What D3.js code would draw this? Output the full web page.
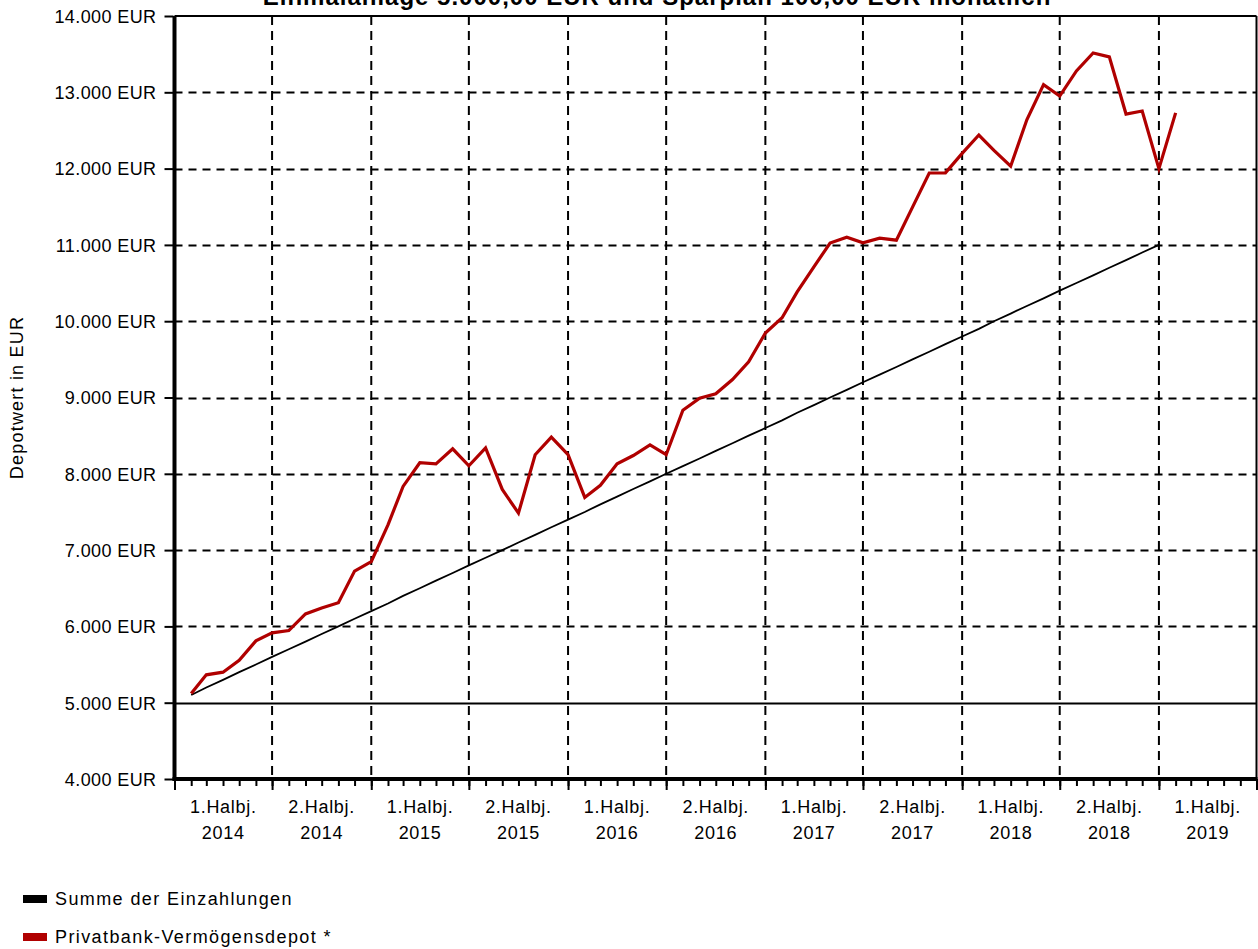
<!DOCTYPE html>
<html>
<head>
<meta charset="utf-8">
<script src="https://cdn.jsdelivr.net/npm/d3@7"></script>
<style>
  html, body { margin: 0; padding: 0; background: #fff; }
  svg { display: block; }
  text { font-family: "Liberation Sans", Arial, sans-serif; fill: #000; }
</style>
</head>
<body>
<svg id="chart" width="1258" height="949"></svg>
<script>
// ---- Data ----
const titleText = "Einmalanlage 5.000,00 EUR und Sparplan 100,00 EUR monatlich";
const yAxisTitle = "Depotwert in EUR";
const seriesNames = ["Summe der Einzahlungen", "Privatbank-Vermögensdepot *"];
const seriesColors = ["#000000", "#b00000"];

// month-end valuation dates (first of following month)
const months = [
  "2014-02","2014-03","2014-04","2014-05","2014-06","2014-07","2014-08","2014-09","2014-10","2014-11","2014-12","2015-01",
  "2015-02","2015-03","2015-04","2015-05","2015-06","2015-07","2015-08","2015-09","2015-10","2015-11","2015-12","2016-01",
  "2016-02","2016-03","2016-04","2016-05","2016-06","2016-07","2016-08","2016-09","2016-10","2016-11","2016-12","2017-01",
  "2017-02","2017-03","2017-04","2017-05","2017-06","2017-07","2017-08","2017-09","2017-10","2017-11","2017-12","2018-01",
  "2018-02","2018-03","2018-04","2018-05","2018-06","2018-07","2018-08","2018-09","2018-10","2018-11","2018-12","2019-01",
  "2019-02"
];

const einzahlungen = [
  5100,5200,5300,5400,5500,5600,5700,5800,5900,6000,6100,6200,
  6300,6400,6500,6600,6700,6800,6900,7000,7100,7200,7300,7400,
  7500,7600,7700,7800,7900,8000,8100,8200,8300,8400,8500,8600,
  8700,8800,8900,9000,9100,9200,9300,9400,9500,9600,9700,9800,
  9900,10000,10100,10200,10300,10400,10500,10600,10700,10800,10900,11000
];

const depot = [
  5120,5365,5400,5555,5810,5915,5945,6163,6242,6310,6725,6850,
  7330,7835,8145,8130,8328,8105,8340,7795,7485,8250,8480,8250,
  7690,7850,8130,8240,8378,8250,8833,8990,9048,9235,9468,9845,
  10045,10385,10712,11025,11100,11028,11088,11062,11495,11942,11945,12200,
  12440,12240,12032,12640,13100,12950,13280,13515,13465,12715,12755,12000,
  12730
];

const yTicks = [4000,5000,6000,7000,8000,9000,10000,11000,12000,13000,14000];
const halfYearStarts = ["2014-01","2014-07","2015-01","2015-07","2016-01","2016-07","2017-01","2017-07","2018-01","2018-07","2019-01","2019-07"];
const halfYearLabels = [
  ["1.Halbj.","2014"],["2.Halbj.","2014"],["1.Halbj.","2015"],["2.Halbj.","2015"],
  ["1.Halbj.","2016"],["2.Halbj.","2016"],["1.Halbj.","2017"],["2.Halbj.","2017"],
  ["1.Halbj.","2018"],["2.Halbj.","2018"],["1.Halbj.","2019"]
];

// ---- Layout ----
const svg = d3.select("#chart");
const pLeft = 174.5, pRight = 1256.5, pTop = 16, pBottom = 779;
const parse = d3.timeParse("%Y-%m");
const dates = months.map(parse);
const halfDates = halfYearStarts.map(parse);

const x = d3.scaleTime().domain([halfDates[0], halfDates[halfDates.length - 1]]).range([pLeft, pRight]);
const y = d3.scaleLinear().domain([4000, 14000]).range([pBottom, pTop]);

const fmt = v => d3.format(",")(v).replace(/,/g, ".") + " EUR";

// Title (cut off at top, as in the original)
svg.append("text")
  .attr("x", 657).attr("y", 5)
  .attr("text-anchor", "middle")
  .style("font-size", "24px").style("font-weight", "bold").style("letter-spacing", "1px")
  .text(titleText);

// Horizontal grid
const g = svg.append("g");
g.selectAll(".hgrid").data(yTicks.filter(v => v !== 4000 && v !== 14000 && v !== 5000))
  .join("line")
  .attr("x1", pLeft).attr("x2", pRight)
  .attr("y1", d => Math.round(y(d)) + 0.5).attr("y2", d => Math.round(y(d)) + 0.5)
  .attr("stroke", "#000").attr("stroke-width", 2).attr("stroke-dasharray", "8,6");

// Solid 5000 line
g.append("line")
  .attr("x1", pLeft).attr("x2", pRight)
  .attr("y1", Math.round(y(5000)) + 0.5).attr("y2", Math.round(y(5000)) + 0.5)
  .attr("stroke", "#000").attr("stroke-width", 2);

// Vertical grid
g.selectAll(".vgrid").data(halfDates.slice(1, -1))
  .join("line")
  .attr("x1", d => x(d)).attr("x2", d => x(d))
  .attr("y1", pTop).attr("y2", pBottom)
  .attr("stroke", "#000").attr("stroke-width", 2).attr("stroke-dasharray", "9,6");

// Frame: top & right
g.append("line").attr("x1", pLeft).attr("x2", pRight).attr("y1", pTop).attr("y2", pTop)
  .attr("stroke", "#000").attr("stroke-width", 2);
g.append("line").attr("x1", pRight).attr("x2", pRight).attr("y1", pTop).attr("y2", pBottom)
  .attr("stroke", "#000").attr("stroke-width", 2);

// Lines
const line = d3.line().x((d, i) => x(dates[i])).y(d => y(d));
svg.append("path").datum(einzahlungen)
  .attr("d", line).attr("fill", "none")
  .attr("stroke", seriesColors[0]).attr("stroke-width", 1.8);
svg.append("path").datum(depot)
  .attr("d", line).attr("fill", "none")
  .attr("stroke", seriesColors[1]).attr("stroke-width", 3.2)
  .attr("stroke-linejoin", "miter");

// Y axis
const yAxis = d3.axisLeft(y).tickValues(yTicks).tickFormat(fmt).tickSize(9).tickPadding(8);
const ya = svg.append("g").attr("transform", `translate(${pLeft - 1},0)`).call(yAxis);
ya.select(".domain").remove();
ya.selectAll(".tick line").attr("stroke-width", 2);
ya.selectAll(".tick text")
  .style("font-size", "18px").style("letter-spacing", "0.4px")
  .attr("font-family", null).attr("font-size", null)
  .attr("dy", "0.35em");
svg.append("line").attr("x1", pLeft).attr("x2", pLeft).attr("y1", pTop).attr("y2", pBottom + 1.5)
  .attr("stroke", "#000").attr("stroke-width", 4);

// X axis: minor monthly ticks and major half-year ticks
const xMinor = d3.axisBottom(x).ticks(d3.timeMonth.every(1)).tickFormat("").tickSize(7);
const xm = svg.append("g").attr("transform", `translate(0,${pBottom})`).call(xMinor);
xm.select(".domain").remove();
xm.selectAll(".tick line").attr("stroke-width", 2);
const xMajor = d3.axisBottom(x).tickValues(halfDates).tickFormat("").tickSize(11);
const xM = svg.append("g").attr("transform", `translate(0,${pBottom})`).call(xMajor);
xM.select(".domain").remove();
xM.selectAll(".tick line").attr("stroke-width", 2);
svg.append("line").attr("x1", pLeft - 2).attr("x2", pRight + 1).attr("y1", pBottom).attr("y2", pBottom)
  .attr("stroke", "#000").attr("stroke-width", 4);

// X labels centered in half-years
const xl = svg.append("g");
halfYearLabels.forEach((lab, i) => {
  const cx = (x(halfDates[i]) + x(halfDates[i + 1])) / 2;
  xl.append("text").attr("x", cx).attr("y", 813).attr("text-anchor", "middle")
    .style("font-size", "18px").style("letter-spacing", "0.7px").text(lab[0]);
  xl.append("text").attr("x", cx).attr("y", 839).attr("text-anchor", "middle")
    .style("font-size", "18px").style("letter-spacing", "0.7px").text(lab[1]);
});

// Y axis title
svg.append("text")
  .attr("transform", `translate(23,${(pTop + pBottom) / 2}) rotate(-90)`)
  .attr("text-anchor", "middle")
  .style("font-size", "18px").style("letter-spacing", "1.2px")
  .text(yAxisTitle);

// Legend
const legendY = [899, 937];
seriesNames.forEach((name, i) => {
  svg.append("rect").attr("x", 23).attr("y", legendY[i] - 4).attr("width", 24).attr("height", 8)
    .attr("fill", seriesColors[i]);
  svg.append("text").attr("x", 55).attr("y", legendY[i]).attr("dy", "0.35em")
    .style("font-size", "18px").style("letter-spacing", "1.4px").text(name);
});
</script>
</body>
</html>
